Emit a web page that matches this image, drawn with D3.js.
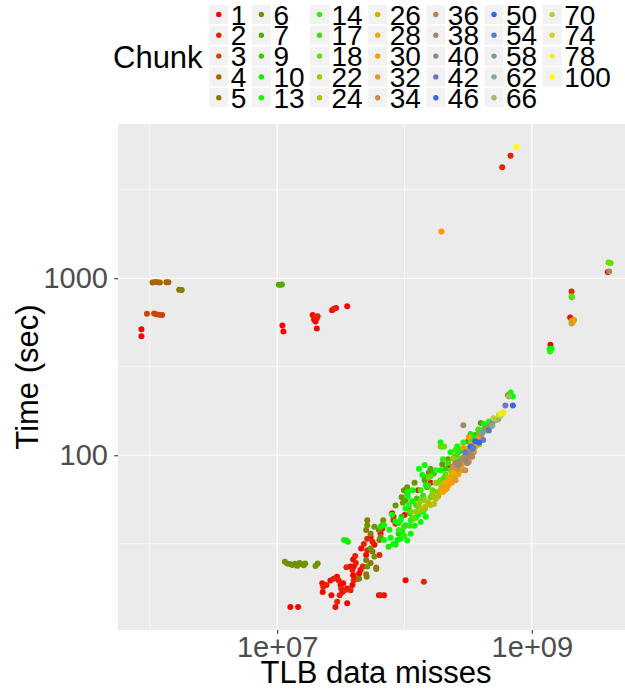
<!DOCTYPE html>
<html lang="en">
<head>
<meta charset="utf-8">
<title>Time vs TLB data misses</title>
<script src="https://cdn.jsdelivr.net/npm/d3@7/dist/d3.min.js"></script>
<style>
  body { margin: 0; background: #fff; }
  svg { display: block; font-family: "Liberation Sans", Arial, sans-serif; }
</style>
</head>
<body>
<svg id="chart" width="625" height="697"></svg>
<script>
// chunk ids and their colours, as in the legend
var chunkIds = [1, 2, 3, 4, 5, 6, 7, 9, 10, 13, 14, 17, 18, 22, 24, 26, 28, 30, 32, 34,
  36, 38, 40, 42, 46, 50, 54, 58, 62, 66, 70, 74, 78, 100];
var chunkColors = ['#FF0000', '#E62200', '#CC4400', '#A86400', '#8A7C00', '#6E9400', '#55AA00',
  '#33CC00', '#11EE00', '#00FF00', '#33EE11', '#44DD11', '#66DD00', '#99CC00', '#BBBB00',
  '#D4B000', '#EEAA00', '#FF9900', '#DD9933', '#CC8F44', '#AA8866', '#998877', '#888899',
  '#6A77CC', '#3A66DD', '#3366EE', '#5A7ACC', '#7A99AA', '#88AA88', '#99BB66', '#BBCC44',
  '#CCD433', '#EEEE11', '#FFFF00'];

// [TLB data misses, time in sec] per chunk
var chunk1 = [[8.6e5,515],[8.6e5,470],[1.1e7,540],[1.12e7,500],[1.9e7,620],[1.95e7,585],[2.0e7,570],
  [2.05e7,520],[2.7e7,660],[2.9e7,680],[3.55e7,695],[1.27e7,13.9],[1.46e7,13.9],[3.95e9,1085],
  [2.0e9,600],[1.4e9,421],[2.26e7,18.9],[2.28e7,16.9],[2.62e7,19.6],[2.95e7,20.6],[3.15e7,18.5],
  [3.3e7,18.9],[3.55e7,17.7],[3.9e7,18.5],[3.95e7,21],[4.0e7,23.5],[3.95e7,25.8],[4.4e7,21.5],
  [4.52e7,22.5],[3.77e7,23.5],[3.25e7,16.9],[2.67e7,16.2],[3.55e7,14.6],[2.87e7,13.9],[5.0e7,27.3],
  [4.57e7,29.7],[5.42e7,34.6],[5.8e7,31.2],[6.49e7,36],[8.0e7,47],[6.3e7,16.2],[6.9e7,16.2],
  [1.02e8,19.7],[8.2e7,45],[1.6e8,70],[3.5e8,122],[1.0e8,46]];
var chunk2 = [[2.0e7,605],[2.05e7,595],[2.08e7,610],[2.8e7,672],[6.8e8,4920],[5.85e8,4230],[2.05e9,841],
  [2.3e7,18.1],[2.44e7,18.5],[2.78e7,20.1],[3.05e7,19.6],[3.18e7,17.7],[3.4e7,17.3],[3.77e7,17.3],
  [4.0e7,19.7],[3.9e7,22.5],[4.15e7,24.6],[4.1e7,27],[4.3e7,20.1],[4.7e7,23.5],[3.5e7,23.3],
  [3.1e7,16.2],[2.96e7,14.9],[4.8e7,31.5],[5.1e7,33.8],[5.6e7,32.5],[6.35e7,27.3],[6.7e7,38.5],
  [8.2e7,43],[6.49e7,16.2],[1.42e8,19.3],[5.1e7,29.1],[1.28e8,63.5],[2.24e8,87],[8.5e7,41]];
var chunk3 = [[9.5e5,630],[1.08e6,632],[1.12e6,625],[1.18e6,622],[1.25e6,620]];
var chunk4 = [[1.05e6,945],[1.1e6,952],[1.15e6,948],[1.2e6,946],[1.35e6,950],[1.4e6,948]];
var chunk5 = [[1.7e6,862],[1.78e6,858],[5.1e7,43],[5.0e7,37.8],[5.42e7,36],[6.3e7,37.8],[6.35e7,33.2],
  [5.6e7,28.6],[5.42e7,24.6],[5.0e7,25.6],[6.0e7,22.8],[5.05e7,20.6],[4.4e7,20.1],[6.7e7,40.3],
  [5.0e7,21.3],[6.0e7,23.2]];
var chunk6 = [[1.15e7,25.0],[1.2e7,24.5],[1.26e7,24.3],[1.32e7,24.0],[1.38e7,24.4],[1.44e7,23.8],
  [1.5e7,24.6],[1.56e7,24.2],[1.62e7,23.9],[1.66e7,24.5],[2.0e7,23.7],[2.08e7,24.5],[5.1e7,40.3],
  [5.8e7,39.5],[6.49e7,34.6],[5.42e7,29.8],[5.8e7,26.8],[5.1e7,23.5],[6.8e7,43],[9.9e7,63.5],
  [1.02e8,55.7],[1.44e8,72.3],[1.98e8,89],[3.15e8,120],[3.97e8,152],[6.5e8,218],[9.5e7,58],
  [1.05e8,66],[1.55e8,80],[2.2e8,95],[4.3e8,145],[8.5e7,52],[1.2e8,70]];
var chunk7 = [[1.03e7,920],[1.07e7,918],[1.09e7,922],[1.08e8,51],[1.44e8,75],[3.31e8,122],[4.4e8,147],
  [1.05e8,60],[9.7e7,54],[1.6e8,84],[2.5e8,98],[3.6e8,130]];
var chunk9 = [[9.0e7,36],[1.1e8,47],[1.5e8,66],[2.1e8,84],[3.3e8,117],[9.5e7,45],[1.25e8,57],[1.7e8,79],
  [2.7e8,105]];
var chunk10 = [[3.35e7,33.2],[3.5e7,33.0],[3.6e7,32.5],[6.49e7,39.5],[7.5e7,30.4],[8.8e7,33.2],[9.0e7,41.5]];
var chunk13 = [[6.9e7,40.3],[8.2e7,31.5],[8.5e7,42.3],[8.0e7,46.2],[6.9e7,33.2],[7.78e7,34.2],[8.5e7,31.2],
  [9.32e7,33.8],[1.02e8,40.3],[1.12e8,43],[1.23e8,44.7],[1.06e8,58.5],[1.16e8,63.5],[1.38e8,77.3],
  [1.44e8,88],[1.92e8,82.3],[2.04e8,74.5],[1.98e8,112],[2.76e8,107],[3.0e8,99.6],[3.6e8,125],
  [3.97e8,138],[4.35e8,147],[6.82e8,226],[7.1e8,215],[9.32e7,43],[1.38e9,398],[1.43e9,400],
  [1.02e8,50],[1.06e8,62],[1.12e8,36],[1.2e8,40],[1.28e8,46],[1.34e8,42],[1.4e8,48],[1.47e8,45],
  [1.3e8,84],[1.47e8,68],[1.92e8,118],[2.3e8,104],[2.6e8,112],[3.3e8,132],[4.2e8,150],[7.6e7,38],
  [9.6e7,37],[1.15e8,55],[1.05e8,33]];
var chunk14 = [[9.0e7,37.8],[1.08e8,52.3],[1.34e8,63.5],[1.76e8,82.3],[2.52e8,107],[3.85e8,134],
  [1.39e9,385],[2.1e9,565],[3.31e8,104],[1.0e8,35],[1.15e8,44],[1.3e8,50],[1.6e8,76],[2.0e8,95],
  [2.9e8,118],[4.6e8,155]];
var chunk17 = [[9.9e7,39.5],[1.23e8,52.3],[1.54e8,67.5],[2.2e8,90.5],[3.31e8,122],[2.06e9,780],
  [1.1e8,40],[1.4e8,59],[1.8e8,70],[2.6e8,100],[3.8e8,140]];
var chunk18 = [[1.12e8,48],[1.34e8,55.7],[1.66e8,63.5],[1.92e8,72.3],[2.3e8,82.3],[2.65e8,93.7],[4.35e8,138],
  [4.0e9,1225],[4.15e9,1220],[2.05e9,790],[2.05e9,575],[1.92e8,112],[2.05e8,112],[1.2e8,44],
  [1.45e8,50],[1.8e8,62],[2.1e8,78],[2.5e8,90],[3.2e8,110],[1.6e8,58],[1.55e8,75]];
var chunk22 = [[1.23e8,48],[1.44e8,55.7],[1.6e8,52.3],[1.84e8,58.5],[2.12e8,67.5],[2.4e8,78],[2.76e8,88],
  [3.85e8,115],[4.75e8,147],[1.3e8,53],[1.65e8,60],[1.95e8,66],[2.2e8,71],[2.6e8,80],[3.1e8,98],
  [1.75e8,70],[2.4e8,96]];
var chunk24 = [[1.34e8,49],[1.54e8,54],[1.76e8,56.8],[2.04e8,63.5],[2.3e8,72.3],[2.6e8,82.3],[3.0e8,93.7],
  [1.45e8,51],[1.85e8,60],[2.15e8,65],[2.45e8,75],[2.8e8,86],[1.7e8,53],[3.3e8,102]];
var chunk26 = [[1.92e8,63.5],[2.2e8,74.5],[2.52e8,82.3],[2.9e8,93.7],[3.31e8,104],[2.0e8,68],[2.35e8,79],
  [2.7e8,88],[3.1e8,100],[3.6e8,112]];
var chunk28 = [[2.12e8,70.2],[2.4e8,79.5],[2.87e8,91],[3.31e8,115],[3.85e8,125],[2.3e8,73],[2.6e8,86],
  [3.05e8,95],[3.5e8,108],[4.0e8,128],[2.0e8,62]];
var chunk30 = [[2.2e8,67.5],[2.65e8,78],[2.9e8,110],[3.2e8,127],[1.95e8,1834],[2.15e9,580],[2.35e8,70],
  [2.75e8,84],[3.1e8,104],[3.8e8,122],[2.1e8,64]];
var chunk32 = [[2.52e8,72.3],[2.87e8,82.3],[3.2e8,96.6],[3.6e8,118],[2.05e9,555]];
var chunk34 = [[2.4e8,85.8],[2.76e8,90.5],[3.0e8,82.3],[3.97e8,131],[2.6e8,84],[3.2e8,92],[3.5e8,104]];
var chunk36 = [[2.52e8,90.5],[2.87e8,96.6],[3.2e8,100],[2.9e8,148],[4.4e8,142],[4.05e9,1090],[2.7e8,92],
  [3.1e8,90],[3.4e8,98],[3.0e8,94]];
var chunk38 = [[2.65e8,88],[3.05e8,93.7],[4.75e8,147]];
var chunk40 = [[3.31e8,107],[4.9e8,153]];
var chunk42 = [[3.0e8,104],[4.15e8,122],[6.2e8,191]];
var chunk46 = [[3.6e8,120],[7.1e8,191]];
var chunk50 = [[3.31e8,112],[3.85e8,118]];
var chunk54 = [[3.45e8,110],[4.6e8,138]];
var chunk58 = [[4.1e8,134],[5.2e8,158]];
var chunk62 = [[4.9e8,147],[5.45e8,160]];
var chunk66 = [[5.3e8,158],[6.6e8,215]];
var chunk70 = [[5.0e8,162],[5.69e8,167]];
var chunk74 = [[5.5e8,169],[5.9e8,173]];
var chunk78 = [[5.69e8,171],[6.0e8,175]];
var chunk100 = [[7.57e8,5510]];

var chunkPoints = [chunk1, chunk2, chunk3, chunk4, chunk5, chunk6, chunk7, chunk9, chunk10, chunk13,
  chunk14, chunk17, chunk18, chunk22, chunk24, chunk26, chunk28, chunk30, chunk32, chunk34,
  chunk36, chunk38, chunk40, chunk42, chunk46, chunk50, chunk54, chunk58, chunk62, chunk66,
  chunk70, chunk74, chunk78, chunk100];

var xMajor = [1e7, 1e9];
var xMinor = [1e6, 1e8, 1e10];
var yMajor = [100, 1000];
var yMinor = [Math.pow(10, 1.5), Math.pow(10, 2.5), Math.pow(10, 3.5)];
var xTitle = 'TLB data misses';
var yTitle = 'Time (sec)';
var legendTitle = 'Chunk';

(function () {
  'use strict';
  var svg = d3.select('#chart');
  // panel; the right side runs past the picture, as in the original export
  var panel = { left: 118, top: 124, right: 634, bottom: 630 };

  var points = [];
  chunkPoints.forEach(function (list, i) {
    list.forEach(function (p) {
      points.push({ x: p[0], y: p[1], chunk: chunkIds[i] });
    });
  });

  // ggplot style 5% expansion, done in log space
  function expandLog(ext) {
    var a = Math.log10(ext[0]), b = Math.log10(ext[1]), pad = (b - a) * 0.05;
    return [Math.pow(10, a - pad), Math.pow(10, b + pad)];
  }
  var x = d3.scaleLog()
    .domain(expandLog(d3.extent(points, function (d) { return d.x; })))
    .range([panel.left, panel.right]);
  var y = d3.scaleLog()
    .domain(expandLog(d3.extent(points, function (d) { return d.y; })))
    .range([panel.bottom, panel.top]);
  var color = d3.scaleOrdinal().domain(chunkIds).range(chunkColors);

  svg.append('rect').attr('width', 625).attr('height', 697).attr('fill', '#fff');

  var clip = svg.append('defs').append('clipPath').attr('id', 'panel-clip');
  clip.append('rect')
    .attr('x', panel.left).attr('y', panel.top)
    .attr('width', panel.right - panel.left).attr('height', panel.bottom - panel.top);

  var plot = svg.append('g').attr('clip-path', 'url(#panel-clip)');
  plot.append('rect')
    .attr('x', panel.left).attr('y', panel.top)
    .attr('width', panel.right - panel.left).attr('height', panel.bottom - panel.top)
    .attr('fill', '#EBEBEB');

  // grid
  plot.selectAll('.gx-minor').data(xMinor).enter().append('line')
    .attr('x1', x).attr('x2', x).attr('y1', panel.top).attr('y2', panel.bottom)
    .attr('stroke', '#fff').attr('stroke-width', 0.55);
  plot.selectAll('.gy-minor').data(yMinor).enter().append('line')
    .attr('y1', y).attr('y2', y).attr('x1', panel.left).attr('x2', panel.right)
    .attr('stroke', '#fff').attr('stroke-width', 0.55);
  plot.selectAll('.gx-major').data(xMajor).enter().append('line')
    .attr('x1', x).attr('x2', x).attr('y1', panel.top).attr('y2', panel.bottom)
    .attr('stroke', '#fff').attr('stroke-width', 1.1);
  plot.selectAll('.gy-major').data(yMajor).enter().append('line')
    .attr('y1', y).attr('y2', y).attr('x1', panel.left).attr('x2', panel.right)
    .attr('stroke', '#fff').attr('stroke-width', 1.1);

  plot.selectAll('circle.pt').data(points).enter().append('circle')
    .attr('class', 'pt')
    .attr('cx', function (d) { return x(d.x); })
    .attr('cy', function (d) { return y(d.y); })
    .attr('r', 3)
    .attr('fill', function (d) { return color(d.chunk); });

  // axes
  function sci(v) {
    var e = Math.round(Math.log10(v));
    return '1e' + (e < 0 ? '-' : '+') + (Math.abs(e) < 10 ? '0' : '') + Math.abs(e);
  }
  var xAxis = svg.append('g')
    .attr('transform', 'translate(0,' + panel.bottom + ')')
    .call(d3.axisBottom(x).tickValues(xMajor).tickFormat(sci).tickSize(3.7).tickPadding(3));
  var yAxis = svg.append('g')
    .attr('transform', 'translate(' + panel.left + ',0)')
    .call(d3.axisLeft(y).tickValues(yMajor).tickFormat(d3.format('d')).tickSize(3.7).tickPadding(6.3));
  [xAxis, yAxis].forEach(function (ax) {
    ax.select('.domain').remove();
    ax.selectAll('.tick line').attr('stroke', '#333333').attr('stroke-width', 1.1);
    ax.selectAll('.tick text').attr('fill', '#4D4D4D').style('font-size', '29px')
      .style('font-family', '"Liberation Sans", Arial, sans-serif');
  });

  svg.append('text')
    .attr('x', (panel.left + panel.right) / 2).attr('y', 683)
    .attr('text-anchor', 'middle').style('font-size', '31px').attr('fill', '#000')
    .text(xTitle);
  svg.append('text')
    .attr('transform', 'translate(38,' + (panel.top + panel.bottom) / 2 + ') rotate(-90)')
    .attr('text-anchor', 'middle').style('font-size', '31px').attr('fill', '#000')
    .text(yTitle);

  // legend: 5 rows, filled column by column
  var nRows = 5, keySize = 19, rowStep = 20.8, legendTop = 5;
  var legend = svg.append('g');
  legend.append('text').attr('x', 113).attr('y', 68)
    .style('font-size', '31px').attr('fill', '#000').text(legendTitle);

  var colX = 209.3;
  for (var c = 0; c * nRows < chunkIds.length; c++) {
    var maxW = 0;
    for (var r = 0; r < nRows; r++) {
      var k = c * nRows + r;
      if (k >= chunkIds.length) break;
      var top = legendTop + r * rowStep;
      legend.append('rect').attr('x', colX).attr('y', top)
        .attr('width', keySize).attr('height', keySize).attr('fill', '#F2F2F2');
      legend.append('circle').attr('cx', colX + keySize / 2).attr('cy', top + keySize / 2)
        .attr('r', 2.7).attr('fill', color(chunkIds[k]));
      var t = legend.append('text').attr('x', colX + keySize + 2.5).attr('y', top + keySize / 2 + 10)
        .style('font-size', '28px').attr('fill', '#000').text(chunkIds[k]);
      maxW = Math.max(maxW, t.node().getComputedTextLength());
    }
    colX += keySize + 2.5 + maxW + 5.5;
  }
})();
</script>
</body>
</html>
